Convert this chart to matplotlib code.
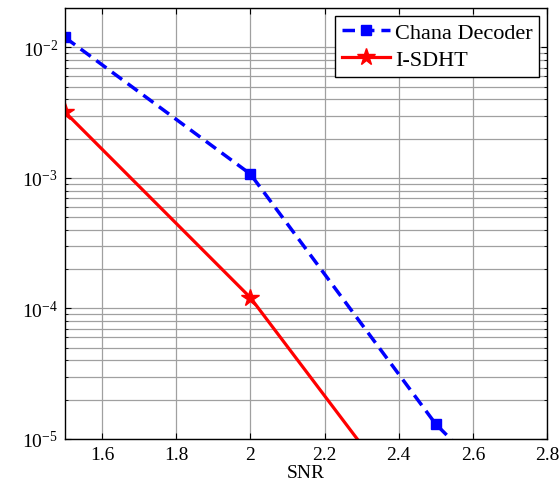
import matplotlib as mpl
import matplotlib.pyplot as plt
import numpy as np
from matplotlib.ticker import LogLocator, FixedLocator, NullFormatter

mpl.rcParams["font.family"] = "serif"
mpl.rcParams["font.serif"] = ["Liberation Serif", "DejaVu Serif"]
mpl.rcParams["mathtext.fontset"] = "custom"
mpl.rcParams["mathtext.rm"] = "Liberation Serif"
mpl.rcParams["mathtext.it"] = "Liberation Serif:italic"
mpl.rcParams["axes.unicode_minus"] = False

# BER vs SNR for both decoders
SNR = [1.5, 2.0, 2.5, 3.0]
BER_CHANA = [1.19e-2, 1.07e-3, 1.30e-5, 5.0e-7]
BER_ISDHT = [3.19e-3, 1.21e-4, 1.6e-6, 2.0e-8]

XTICKS = [1.6, 1.8, 2.0, 2.2, 2.4, 2.6, 2.8]
XTICKLABELS = ["1.6", "1.8", "2", "2.2", "2.4", "2.6", "2.8"]

fig = plt.figure(figsize=(5.59, 4.85), dpi=100)
ax = fig.add_axes([0.1163, 0.0928, 0.8622, 0.8886])

ax.semilogy(SNR, BER_CHANA, "--", color="#0000ff", lw=2.5, dashes=(3.6, 2.0),
            marker="s", ms=7, mfc="#0000ff", mec="#0000ff",
            label="Chana Decoder")
ax.semilogy(SNR, BER_ISDHT, "-", color="#ff0000", lw=2.3,
            marker="*", ms=13, mfc="#ff0000", mec="#ff0000",
            label="I-SDHT")

ax.set_xlim(1.5, 2.8)
ax.set_ylim(1e-5, 2e-2)
ax.xaxis.set_major_locator(FixedLocator(XTICKS))
ax.set_xticklabels(XTICKLABELS)
ax.yaxis.set_major_locator(LogLocator(base=10, numticks=10))
ax.yaxis.set_minor_locator(LogLocator(base=10, subs=np.arange(2, 10), numticks=10))
ax.yaxis.set_minor_formatter(NullFormatter())

ax.grid(which="major", color="#a0a0a0", lw=0.9)
ax.grid(which="minor", axis="y", color="#a0a0a0", lw=0.9)
ax.set_axisbelow(True)

ax.tick_params(which="both", direction="in", top=True, right=True,
               labelsize=14, pad=5)
ax.tick_params(which="major", length=4)
ax.tick_params(which="minor", length=2.5)
for s in ax.spines.values():
    s.set_linewidth(1.0)

ax.set_xlabel("SNR", fontsize=14, labelpad=1)

leg = ax.legend(loc="upper right", fontsize=16, frameon=True, fancybox=False,
                borderaxespad=0.35, handlelength=2.2, borderpad=0.3,
                labelspacing=0.3, handletextpad=0.2)
leg.get_frame().set_edgecolor("black")
leg.get_frame().set_linewidth(1.0)
leg.get_frame().set_alpha(1.0)

fig.savefig("out.png", dpi=100, facecolor="white")
